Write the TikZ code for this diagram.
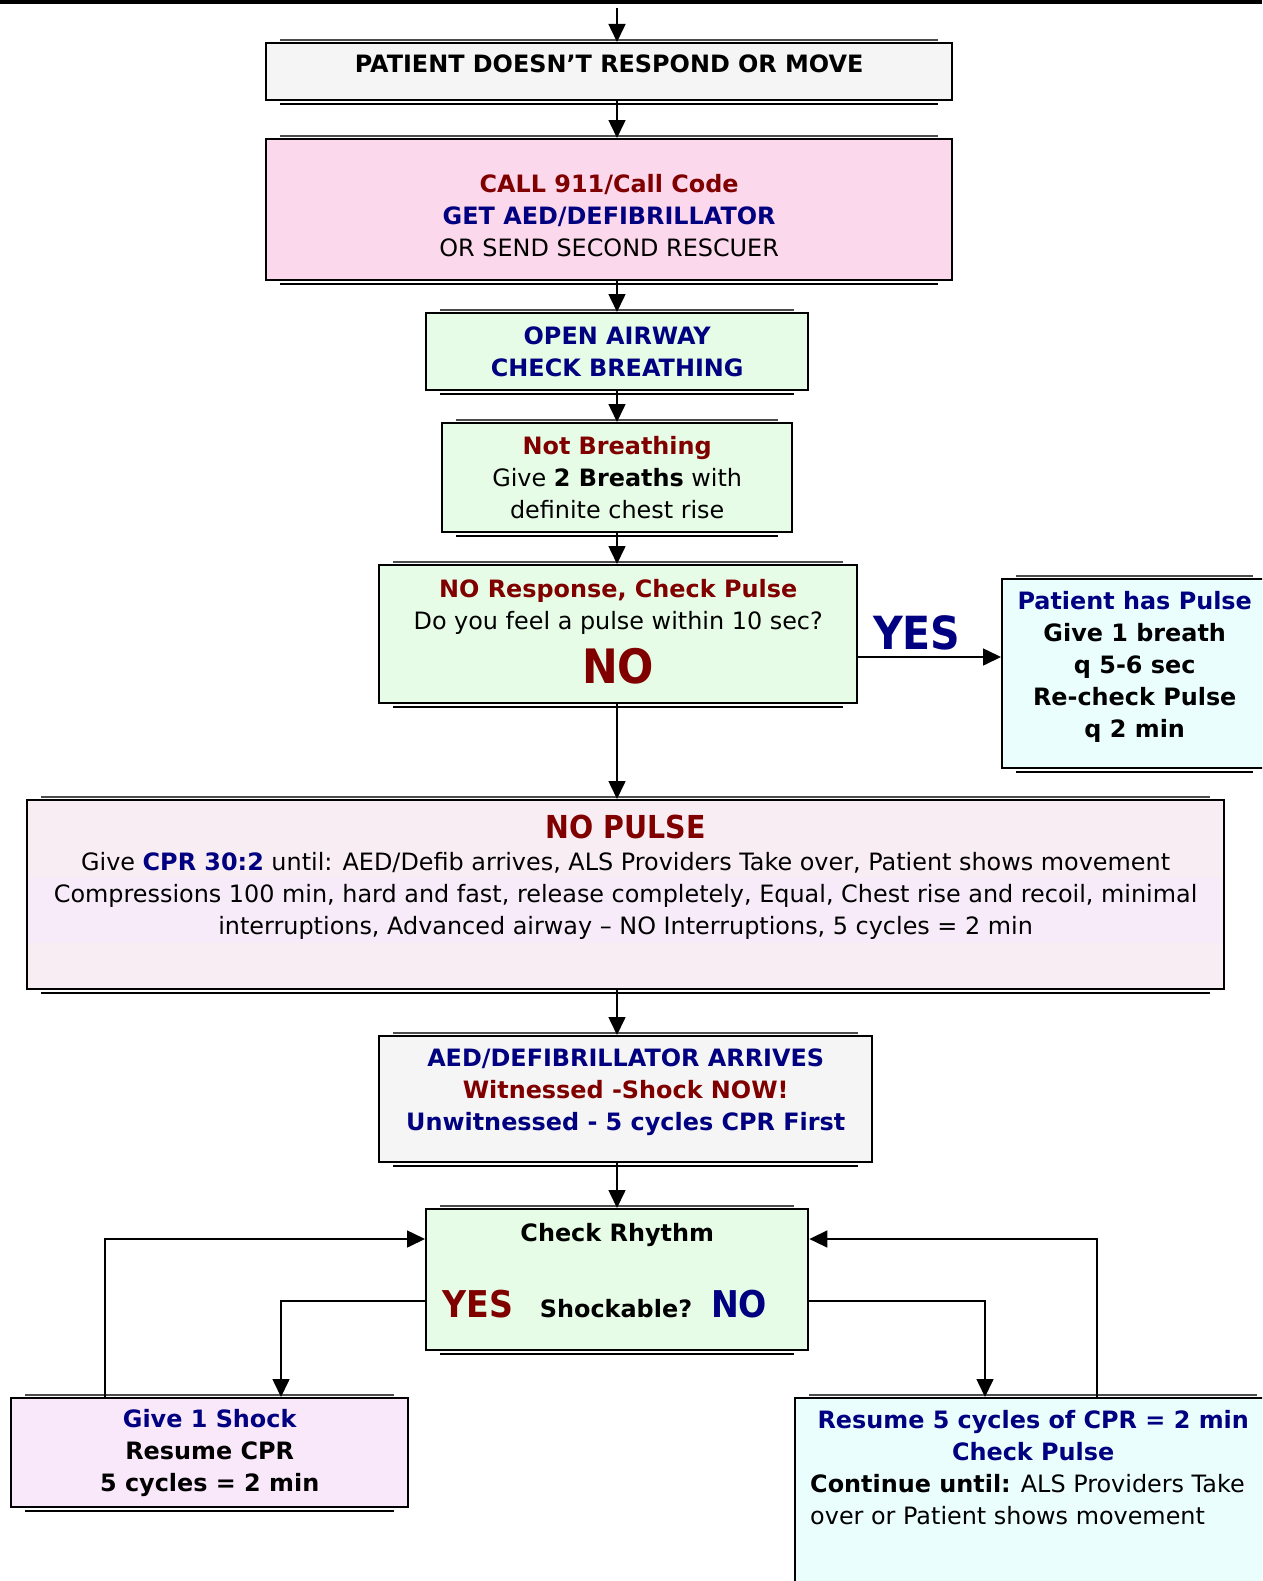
\documentclass[tikz,border=0pt]{standalone}
\usepackage{fontspec}
\setmainfont{DejaVu Sans}
\newfontfamily\bigfont{DejaVu Sans}[FakeStretch=0.9]
\usepackage{tikz}
\usetikzlibrary{arrows.meta}
\usetikzlibrary{positioning}
\usetikzlibrary{calc}
\definecolor{myred}{RGB}{128,0,0}
\definecolor{myblue}{RGB}{0,0,128}
\definecolor{mygray}{RGB}{245,245,245}
\definecolor{mypink}{RGB}{252,216,236}
\definecolor{mygreen}{RGB}{230,252,230}
\definecolor{mycyan}{RGB}{235,254,254}
\definecolor{myrose}{RGB}{249,237,244}
\definecolor{myband}{RGB}{247,235,250}
\definecolor{mylilac}{RGB}{249,232,250}
\newcommand\rtext[1]{\textcolor{myred}{\bfseries #1}}
\newcommand\btext[1]{\textcolor{myblue}{\bfseries #1}}
\newcommand\bigtext[2]{{\bigfont\fontsize{#1}{#1}\selectfont #2}}
\newcommand\flowbox[6][]{%
  \node[flowbox,#1] (#2) at #3 {\parbox[c][#5][c]{#4}{\centering #6}};
}

\begin{document}
\begin{tikzpicture}[
x=0.02cm, y=-0.02cm,
flowbox/.style={
  draw,
  line width=1.4pt,
  inner sep=0pt,
  anchor=north west,
  font=\fontsize{13.6}{18.3}\selectfont},
arr/.style={-{Triangle[length=0.36cm,width=0.34cm]}, line width=0.9pt}
]
\useasboundingbox (0,0) rectangle (1262,1581);
\clip (0,0) rectangle (1262,1581);
\draw[line width=0.09cm] (0,2) -- (1262,2);
\coordinate (start) at (617,8);

\flowbox[fill=mygray]{pat}{(265,42)}{13.72cm}{1.14cm}{\bfseries PATIENT DOESN’T RESPOND OR MOVE\par\vspace{0.3cm}}
\flowbox[fill=mypink]{call}{(265,138)}{13.72cm}{2.82cm}{\vspace*{0.24cm}\rtext{CALL 911/Call Code}\\ \btext{GET AED/DEFIBRILLATOR}\\ OR SEND SECOND RESCUER}
\flowbox[fill=mygreen]{airway}{(425,312)}{7.64cm}{1.54cm}{\btext{OPEN AIRWAY}\\ \btext{CHECK BREATHING}}
\flowbox[fill=mygreen]{breath}{(441,422)}{7cm}{2.18cm}{\rtext{Not Breathing}\\ Give \textbf{2 Breaths} with\\ definite chest rise}
\flowbox[fill=mygreen]{pulse}{(378,564)}{9.56cm}{2.76cm}{\rtext{NO Response, Check Pulse}\\ Do you feel a pulse within 10 sec?\\[7pt] \bigtext{27}{\rtext{NO}}\par\vspace{0.1cm}}
\flowbox[fill=mycyan]{haspulse}{(1001,578)}{5.3cm}{3.78cm}{\btext{Patient has Pulse}\\ \bfseries Give 1 breath\\ q 5-6 sec\\ Re-check Pulse\\ q 2 min\par\vspace{0.28cm}}
\flowbox[fill=myrose,
  path picture={\fill[myband] ($(path picture bounding box.north west)+(0,78)$) rectangle ($(path picture bounding box.north east)+(0,143)$);}
  ]{nopulse}{(26,799)}{23.94cm}{3.78cm}{\vspace*{0.29cm}\bigtext{18}{\rtext{NO PULSE}}\\
  Give \btext{CPR 30:2} until: AED/Defib arrives, ALS Providers Take over, Patient shows movement\\
  Compressions 100 min, hard and fast, release completely, Equal, Chest rise and recoil, minimal\\
  interruptions, Advanced airway -- NO Interruptions, 5 cycles = 2 min\par\vfill}
\flowbox[fill=mygray]{aed}{(378,1035)}{9.86cm}{2.52cm}{\btext{AED/DEFIBRILLATOR ARRIVES}\\ \rtext{Witnessed -Shock NOW!}\\ \btext{Unwitnessed - 5 cycles CPR First}\par\vspace{0.28cm}}
\flowbox[fill=mygreen]{rhythm}{(425,1208)}{7.64cm}{2.82cm}{\vspace*{0.28cm}\bfseries Check Rhythm\\[24pt]
  \bigtext{21}{\rtext{YES}}\hspace{0.54cm}Shockable?\hspace{0.38cm}\bigtext{21}{\btext{NO}}\hspace*{0.5cm}\par\vfill}
\flowbox[fill=mylilac]{shock}{(10,1397)}{7.94cm}{2.18cm}{\btext{Give 1 Shock}\\ \bfseries Resume CPR\\ 5 cycles = 2 min}
\flowbox[fill=mycyan]{resume}{(794,1397)}{9.52cm}{4.06cm}{\vspace*{0.24cm}\btext{Resume 5 cycles of CPR = 2 min}\\ \btext{Check Pulse}\par
  \leftskip=0.3cm \rightskip=0pt plus 1fil\relax
  \textbf{Continue until:} ALS Providers Take\\ over or Patient shows movement\par\vfill}

% shadow edges
\foreach \n in {pat,call,airway,breath,pulse,haspulse,nopulse,aed,rhythm,shock,resume} {
  \draw[line width=0.8pt, black!70] ([xshift=0.3cm,yshift=1.2pt]\n.north west) -- ([xshift=-0.3cm,yshift=1.2pt]\n.north east);
  \draw[line width=1.4pt] ([xshift=0.3cm,yshift=-1.6pt]\n.south west) -- ([xshift=-0.3cm,yshift=-1.6pt]\n.south east);
}

\draw[arr] (start) -- (pat.north -| start);
\draw[arr] (pat.south -| start) -- (call.north -| start);
\draw[arr] (call.south -| start) -- (airway.north -| start);
\draw[arr] (airway.south -| start) -- (breath.north -| start);
\draw[arr] (breath.south -| start) -- (pulse.north -| start);
\draw[arr] (pulse.south -| start) -- (nopulse.north -| start);
\draw[arr] (nopulse.south -| start) -- (aed.north -| start);
\draw[arr] (aed.south -| start) -- (rhythm.north -| start);

\coordinate (yesrow) at (0,657);
\draw[arr] (pulse.east |- yesrow) -- (haspulse.west |- yesrow)
  node[pos=0.41, above, font=\bigfont\fontsize{26}{30}\selectfont\bfseries, text=myblue] {YES};

\coordinate (yespt) at (281,1301);
\coordinate (nopt) at (985,1301);
\coordinate (loopl) at (105,1239);
\coordinate (loopr) at (1097,1239);
\draw[arr] (rhythm.west |- yespt) -| (shock.north -| yespt);
\draw[arr] (shock.north -| loopl) |- (rhythm.west |- loopl);
\draw[arr] (rhythm.east |- nopt) -| (resume.north -| nopt);
\draw[arr] (resume.north -| loopr) |- (rhythm.east |- loopr);
\end{tikzpicture}
\end{document}
